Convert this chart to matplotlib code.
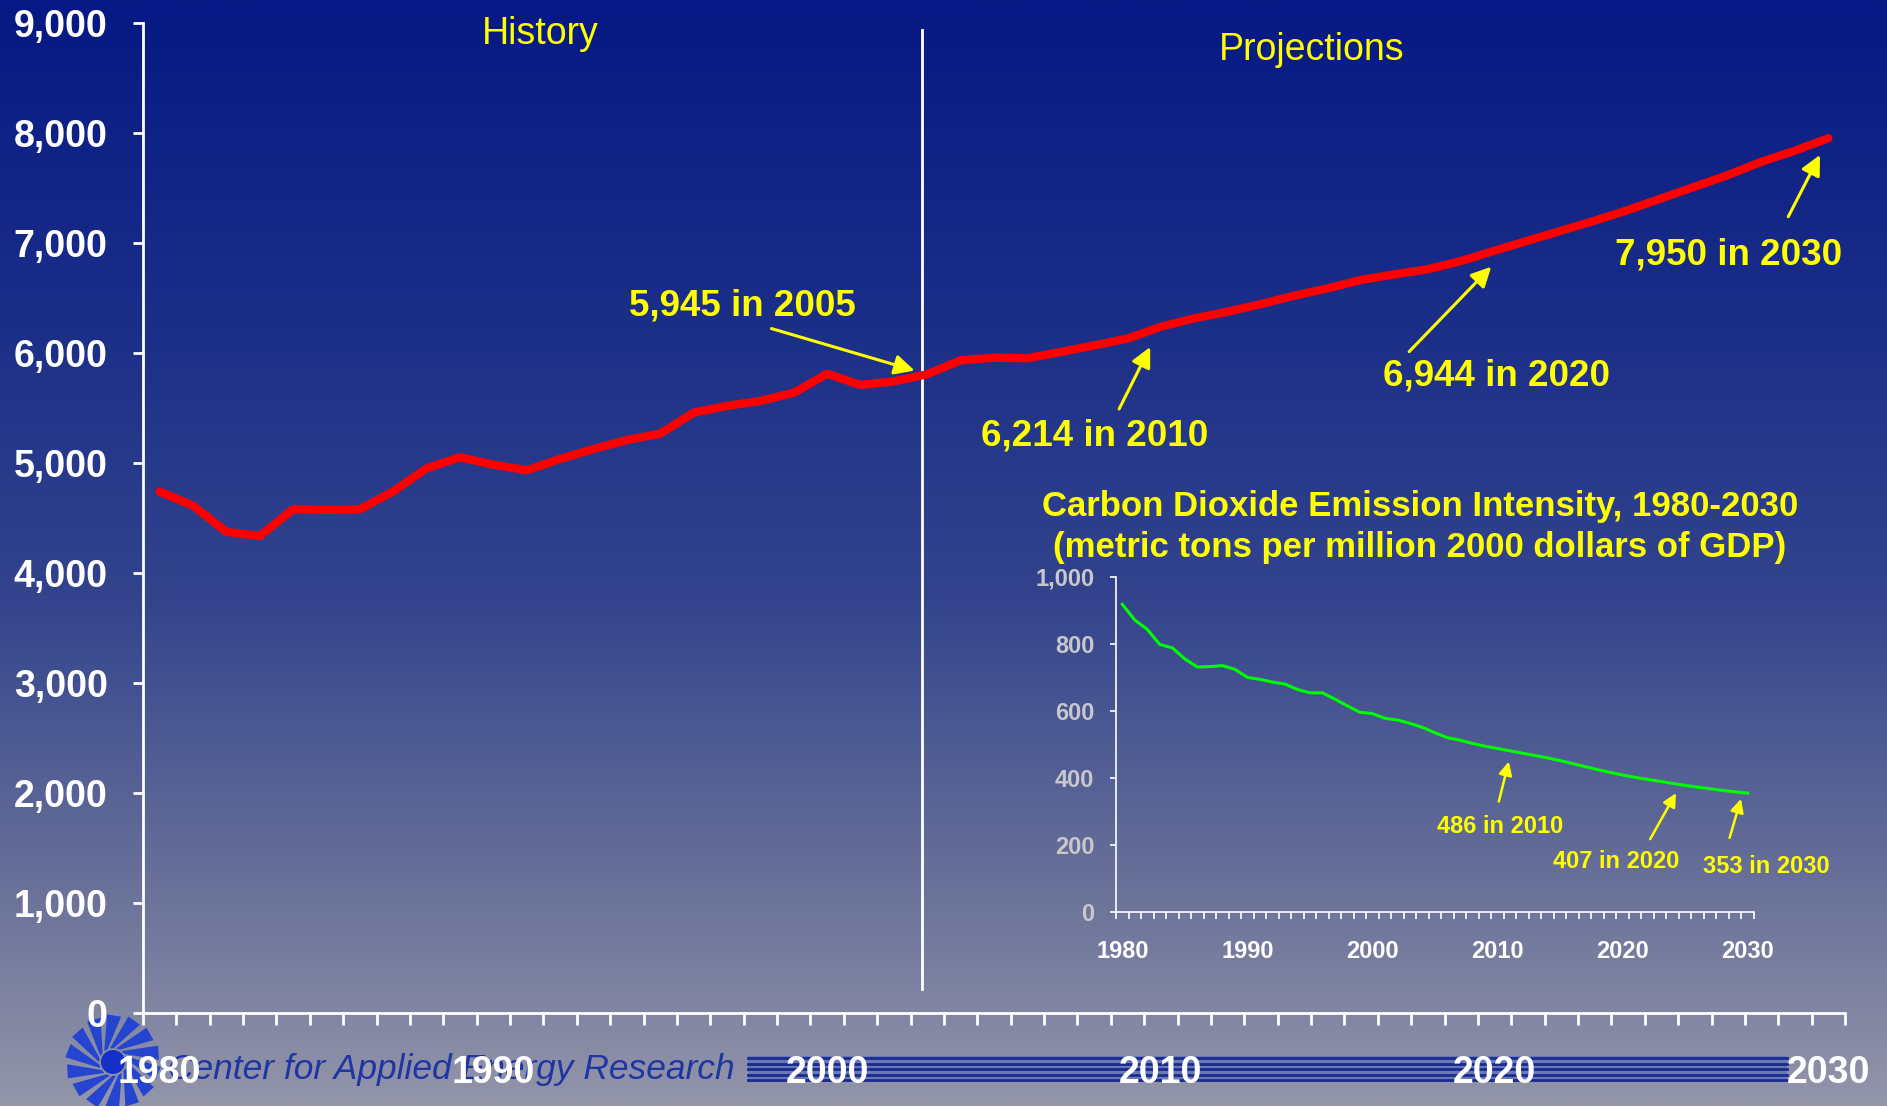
import numpy as np
import matplotlib.pyplot as plt
from matplotlib.colors import LinearSegmentedColormap
from matplotlib.patches import Polygon, Circle, Rectangle

plt.rcParams['font.family'] = ['Liberation Sans', 'DejaVu Sans']

# data
years = list(range(1980, 2031))
co2_emissions = [4742, 4615, 4377, 4339, 4583, 4578, 4582, 4745, 4955, 5055,
                 4987, 4937, 5040, 5130, 5212, 5270, 5460, 5522, 5567, 5641,
                 5814, 5712, 5745, 5810, 5936, 5960, 5955, 6012, 6072, 6134,
                 6242, 6318, 6378, 6448, 6524, 6591, 6667, 6718, 6764, 6839,
                 6933, 7024, 7115, 7206, 7303, 7409, 7515, 7621, 7742, 7842,
                 7955]
co2_intensity = [918, 871, 843, 798, 788, 755, 731, 732, 735, 724,
                 700, 694, 686, 680, 664, 654, 654, 635, 615, 596,
                 592, 578, 573, 563, 551, 535, 520, 513, 503, 495,
                 488, 481, 474, 467, 460, 452, 443, 434, 425, 417,
                 409, 402, 396, 390, 384, 378, 373, 368, 363, 359,
                 355]
tick_years = [1980, 1990, 2000, 2010, 2020, 2030]
main_yticks = list(range(0, 10000, 1000))
inset_yticks = list(range(0, 1200, 200))

YELLOW = '#ffff00'
W, H = 1887, 1106
fig = plt.figure(figsize=(W / 100, H / 100), dpi=100)


def box(l, t, r, b):
    return [l / W, 1 - b / H, (r - l) / W, (b - t) / H]


# background gradient + logo watermark, drawn in pixel space
bg = fig.add_axes([0, 0, 1, 1], zorder=-10)
stops = [(0.0, '#061984'), (0.3, '#1c2f88'), (0.55, '#34458d'),
         (0.8, '#697199'), (1.0, '#9395a9')]
cmap = LinearSegmentedColormap.from_list('bg', stops)
bg.imshow(np.linspace(0, 1, 512).reshape(-1, 1), aspect='auto', cmap=cmap,
          extent=[0, W, H, 0])
bg.set_xlim(0, W)
bg.set_ylim(H, 0)
bg.axis('off')

# pinwheel logo
cx, cy = 113, 1062
for k in range(14):
    a = 2 * np.pi * k / 14
    pts = [(cx + 14 * np.cos(a), cy + 14 * np.sin(a)),
           (cx + 48 * np.cos(a + 0.55), cy + 48 * np.sin(a + 0.55)),
           (cx + 46 * np.cos(a + 0.85), cy + 46 * np.sin(a + 0.85)),
           (cx + 14 * np.cos(a + 0.28), cy + 14 * np.sin(a + 0.28))]
    bg.add_patch(Polygon(pts, closed=True, color='#2545d0', lw=0))
bg.add_patch(Circle((cx, cy), 12, color='#1430c8', lw=0))

bg.text(168, 1069, 'Center for Applied Energy Research', fontsize=25.5,
        style='italic', color='#1f36a2', ha='left', va='center')
bg.add_patch(Rectangle((748, 1056), 1039, 26, color='#6878b8', lw=0))
for k in range(5):
    bg.plot([748, 1787], [1058 + 5.5 * k] * 2, color='#1a2c8a', lw=2)

# main chart
ax = fig.add_axes(box(143, 23.3, 1845, 1013.3))
ax.set_facecolor('none')
x = np.arange(len(years))
ax.plot(x, co2_emissions, color='#ff0000', lw=6, solid_capstyle='round',
        zorder=3)
ax.set_xlim(-0.5, len(years) - 0.5)
ax.set_ylim(0, 9000)
for s in ['top', 'right']:
    ax.spines[s].set_visible(False)
for s in ['left', 'bottom']:
    ax.spines[s].set_color('white')
    ax.spines[s].set_linewidth(2)

ax.set_yticks(main_yticks)
ax.set_yticklabels([f'{v:,}' for v in main_yticks])
ax.tick_params(axis='y', colors='white', direction='out', length=7.5,
               width=2, pad=18, labelsize=27)
ax.set_xticks([years.index(y) for y in tick_years])
ax.set_xticklabels([str(y) for y in tick_years])
ax.set_xticks(np.arange(-0.5, len(years)), minor=True)
ax.tick_params(axis='x', which='major', length=0, pad=30, labelsize=27,
               labelcolor='white')
ax.tick_params(axis='x', which='minor', length=8.5, width=2, color='white',
               direction='out')
for t in ax.get_xticklabels() + ax.get_yticklabels():
    t.set_fontweight('bold')

ax.axvline(22.85, ymin=221 / 9000, ymax=8939 / 9000, color='white', lw=2)
fig.text(540 / W, 1 - 34 / H, 'History', color=YELLOW, fontsize=27,
         ha='center', va='center')
fig.text(1312 / W, 1 - 50 / H, 'Projections', color=YELLOW, fontsize=27,
         ha='center', va='center')


def note(a, label, pos, tail, tip, size, ms, lw):
    a.annotate('', xy=tip, xytext=tail, annotation_clip=False,
               arrowprops=dict(arrowstyle='-|>', color=YELLOW, lw=lw,
                               mutation_scale=ms, shrinkA=0, shrinkB=0))
    a.text(pos[0], pos[1], label, color=YELLOW, fontsize=size,
           fontweight='bold', ha='center', va='center', clip_on=False)


note(ax, '5,945 in 2005', (17.47, 6430), (18.33, 6225), (22.62, 5843), 26.5, 30, 2.2)
note(ax, '6,214 in 2010', (28.03, 5250), (28.75, 5494), (29.68, 6057), 26.5, 30, 2.2)
note(ax, '6,944 in 2020', (40.05, 5795), (37.44, 6015), (39.9, 6787), 26.5, 30, 2.2)
note(ax, '7,950 in 2030', (47.0, 6890), (48.8, 7242), (49.75, 7803), 26.5, 30, 2.2)

# inset chart
ins = fig.add_axes(box(1116, 576.7, 1754, 912.3))
ins.set_facecolor('none')
ins.plot(x, co2_intensity, color='#00ff00', lw=2.2, zorder=3)
ins.set_xlim(-0.5, len(years) - 0.5)
ins.set_ylim(0, 1000)
for s in ['top', 'right']:
    ins.spines[s].set_visible(False)
for s in ['left', 'bottom']:
    ins.spines[s].set_color('white')
    ins.spines[s].set_linewidth(1.2)
ins.set_yticks(inset_yticks)
ins.set_yticklabels([f'{v:,}' for v in inset_yticks])
ins.tick_params(axis='y', colors='white', labelcolor='#c8c8cc',
                direction='out', length=4.5, width=1.2, pad=11, labelsize=17)
ins.set_xticks([years.index(y) for y in tick_years])
ins.set_xticklabels([str(y) for y in tick_years])
ins.set_xticks(np.arange(-0.5, len(years)), minor=True)
ins.tick_params(axis='x', which='major', length=0, pad=20, labelsize=17,
                labelcolor='white')
ins.tick_params(axis='x', which='minor', length=5, width=1.2, color='white',
                direction='out')
for t in ins.get_xticklabels() + ins.get_yticklabels():
    t.set_fontweight('bold')

note(ins, '486 in 2010', (30.2, 255), (30.1, 330), (30.9, 449), 17, 20, 1.8)
note(ins, '407 in 2020', (39.5, 152), (42.2, 218), (44.26, 355), 17, 20, 1.8)
note(ins, '353 in 2030', (51.5, 137), (48.55, 222), (49.46, 338), 17, 20, 1.8)

fig.text(1420 / W, 1 - 507 / H, 'Carbon Dioxide Emission Intensity, 1980-2030',
         color=YELLOW, fontsize=25, fontweight='bold', ha='center', va='center')
fig.text(1420 / W, 1 - 548 / H, '(metric tons per million 2000 dollars of GDP)',
         color=YELLOW, fontsize=25, fontweight='bold', ha='center', va='center')

fig.savefig('out.png', dpi=100)
